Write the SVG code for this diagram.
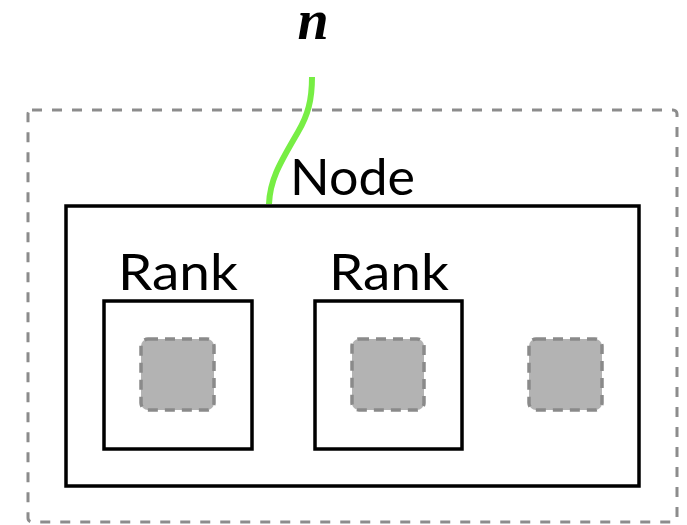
<svg xmlns="http://www.w3.org/2000/svg" width="687" height="525" viewBox="0 0 687 525">
  <style>
    .box { fill: #ffffff; stroke: #000000; stroke-width: 3.5; }
    .group { fill: none; stroke: #8c8c8c; stroke-width: 3; stroke-dasharray: 10 10; }
    .slot { fill: #b3b3b3; stroke: #8a8a8a; stroke-width: 3.5; stroke-dasharray: 10 7; }
    .label { font-family: Lato, "Open Sans", "Liberation Sans", sans-serif; font-size: 51px; fill: #000000; }
    .var { font-family: "Liberation Serif", "DejaVu Serif", serif; font-size: 56px; font-style: italic; font-weight: bold; fill: #000000; }
    .link { fill: none; stroke: #77ee44; stroke-width: 6; stroke-linecap: butt; }
  </style>

  <!-- outer dashed grouping -->
  <rect class="group" x="28" y="110" width="649" height="412" rx="4"/>

  <g id="node">
    <rect class="box" x="66" y="206" width="573" height="280"/>
    <text class="label" x="290" y="195" textLength="125" lengthAdjust="spacingAndGlyphs">Node</text>
  </g>

  <g id="rank1">
    <rect class="box" x="104" y="301" width="148" height="148"/>
    <text class="label" x="118" y="290" textLength="120" lengthAdjust="spacingAndGlyphs">Rank</text>
    <rect class="slot" x="141" y="339" width="73" height="71" rx="7"/>
  </g>

  <g id="rank2">
    <rect class="box" x="315" y="301" width="147" height="148"/>
    <text class="label" x="329" y="290" textLength="120" lengthAdjust="spacingAndGlyphs">Rank</text>
    <rect class="slot" x="352" y="339" width="72" height="71" rx="7"/>
  </g>

  <g id="slot3">
    <rect class="slot" x="529" y="339" width="73" height="71" rx="7"/>
  </g>

  <g id="var-n">
    <text class="var" x="313" y="39" text-anchor="middle">n</text>
  </g>

  <g id="connectors">
    <path class="link" d="M312,77 C312,100 308,115 298,132 C282,160 270,178 269,204"/>
  </g>
</svg>
